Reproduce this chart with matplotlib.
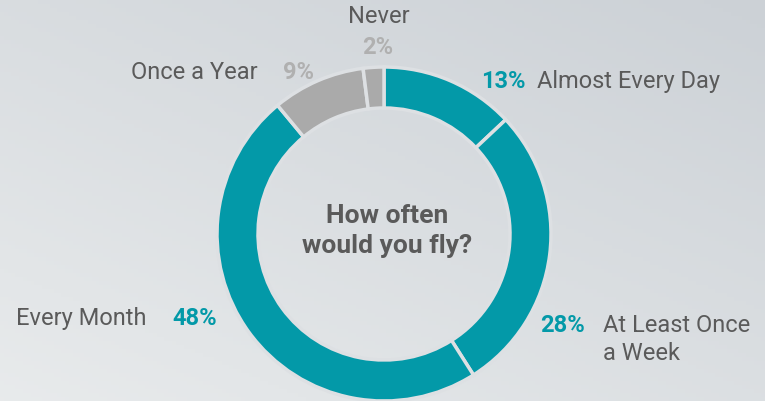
import numpy as np
import matplotlib
matplotlib.use('Agg')
import matplotlib.pyplot as plt

# data (clockwise from top)
labels = ['Almost Every Day', 'At Least Once\na Week', 'Every Month', 'Once a Year', 'Never']
values = [13, 28, 48, 9, 2]
pct_text = ['13%', '28%', '48%', '9%', '2%']

teal = '#0399a8'
grey = '#aaaaaa'
colors = [teal, teal, teal, grey, grey]
pct_colors = [teal, teal, teal, '#b0b0b0', '#b0b0b0']
txt_col = '#5a5a5a'

plt.rcParams['font.family'] = ['Roboto', 'DejaVu Sans']

W, H = 765, 401
fig = plt.figure(figsize=(W / 100, H / 100), dpi=100)
ax = fig.add_axes([0, 0, 1, 1])
ax.set_xlim(0, W)
ax.set_ylim(0, H)
ax.set_aspect('equal')
ax.axis('off')

# sky-ish gradient background
xx, yy = np.meshgrid(np.linspace(0, 1, 200), np.linspace(0, 1, 100))
t = np.clip(0.55 * yy + 0.45 * (1 - xx), 0, 1)  # 1 at bottom-left
top = np.array([0.80, 0.82, 0.84])
bot = np.array([0.91, 0.92, 0.925])
img = top[None, None, :] * (1 - t[..., None]) + bot[None, None, :] * t[..., None]
ax.imshow(img, extent=[0, W, 0, H], origin='upper', aspect='auto', zorder=0)

cx, cy, R = 384, 401 - 234, 167
ax.pie(values, colors=colors, startangle=90, counterclock=False,
       center=(cx, cy), radius=R, frame=True,
       wedgeprops=dict(width=41, edgecolor='#dde0e3', linewidth=2.5))
ax.set_xlim(0, W)
ax.set_ylim(0, H)
ax.axis('off')

fs = 17
def y(p):
    return H - p

# Almost Every Day
ax.text(481, y(88), pct_text[0], color=pct_colors[0], fontsize=fs, fontweight='bold', ha='left', va='baseline')
ax.text(537, y(88), labels[0], color=txt_col, fontsize=fs, ha='left', va='baseline')
# At least once a week
ax.text(540, y(332), pct_text[1], color=pct_colors[1], fontsize=fs, fontweight='bold', ha='left', va='baseline')
ax.text(603, y(332), 'At Least Once', color=txt_col, fontsize=fs, ha='left', va='baseline')
ax.text(603, y(360), 'a Week', color=txt_col, fontsize=fs, ha='left', va='baseline')
# Every month
ax.text(16, y(325), labels[2], color=txt_col, fontsize=fs, ha='left', va='baseline')
ax.text(172, y(325), pct_text[2], color=pct_colors[2], fontsize=fs, fontweight='bold', ha='left', va='baseline')
# Once a year
ax.text(258, y(79), labels[3], color=txt_col, fontsize=fs, ha='right', va='baseline')
ax.text(283, y(79), pct_text[3], color=pct_colors[3], fontsize=fs, fontweight='bold', ha='left', va='baseline')
# Never
ax.text(379, y(23), labels[4], color=txt_col, fontsize=fs, ha='center', va='baseline')
ax.text(378, y(54), pct_text[4], color=pct_colors[4], fontsize=fs, fontweight='bold', ha='center', va='baseline')

# centre question
ax.text(387, y(223), 'How often', color=txt_col, fontsize=19, fontweight='bold', ha='center', va='baseline')
ax.text(387, y(253), 'would you fly?', color=txt_col, fontsize=19, fontweight='bold', ha='center', va='baseline')

fig.savefig('out.png', dpi=100)
